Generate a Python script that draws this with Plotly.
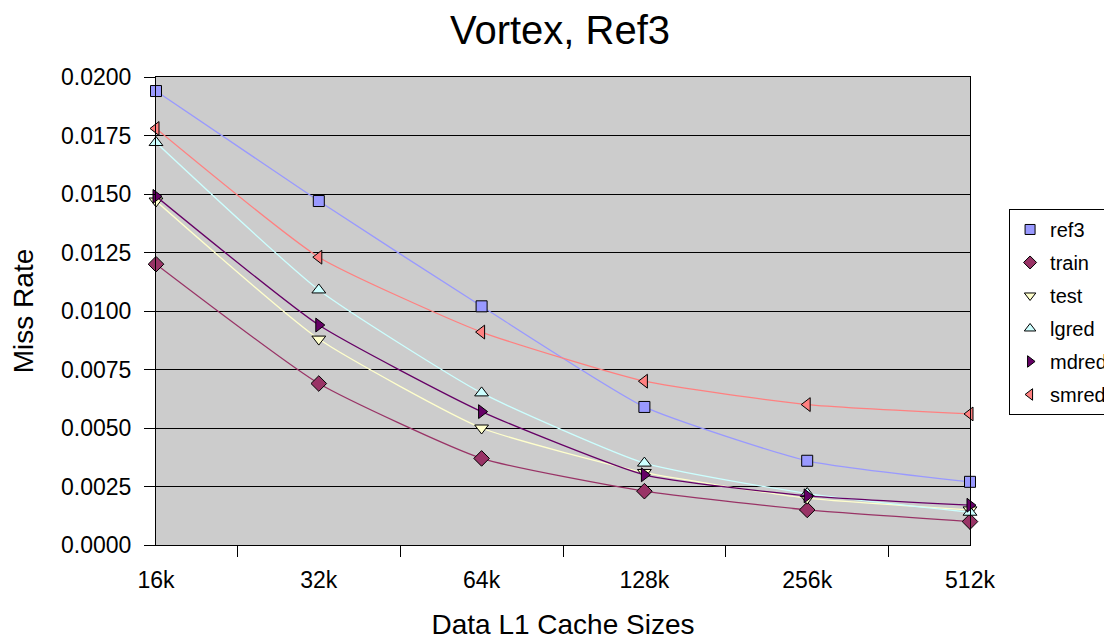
import plotly.graph_objects as go

categories = ["16k", "32k", "64k", "128k", "256k", "512k"]
series_names = ["ref3", "train", "test", "lgred", "mdred", "smred"]
ref3 = [0.0194, 0.0147, 0.0102, 0.0059, 0.0036, 0.0027]
train = [0.0120, 0.0069, 0.0037, 0.0023, 0.0015, 0.0010]
test = [0.0147, 0.0088, 0.0050, 0.0031, 0.0020, 0.0015]
lgred = [0.0172, 0.0109, 0.0065, 0.0035, 0.0022, 0.0014]
mdred = [0.0149, 0.0094, 0.0057, 0.0030, 0.0021, 0.0017]
smred = [0.0178, 0.0123, 0.0091, 0.0070, 0.0060, 0.0056]
y_ticks = [0.0, 0.0025, 0.005, 0.0075, 0.01, 0.0125, 0.015, 0.0175, 0.02]

values = [ref3, train, test, lgred, mdred, smred]
colors = ["#9999FF", "#993366", "#FFFFCC", "#CCFFFF", "#660066", "#FF8080"]
symbols = ["square", "diamond", "triangle-down", "triangle-up", "triangle-right", "triangle-left"]
sizes = [11, 12, 12, 12, 12, 12]

xs = list(range(len(categories)))
fig = go.Figure()
for name, vals, col, sym, sz in zip(series_names, values, colors, symbols, sizes):
    fig.add_trace(go.Scatter(
        x=xs, y=vals, mode="lines+markers", name=name, showlegend=False,
        line=dict(color=col, width=1.3, shape="spline", smoothing=0.5),
        marker=dict(symbol=sym, size=sz, color=col, line=dict(color="#000000", width=1)),
        cliponaxis=False,
    ))
for name, col, sym in zip(series_names, colors, symbols):
    fig.add_trace(go.Scatter(
        x=[None], y=[None], mode="markers", name=name, legendgroup=name,
        marker=dict(symbol=sym, size=10, color=col, line=dict(color="#000000", width=1)),
    ))

font_family = "Liberation Sans, Arial, sans-serif"
fig.update_layout(
    width=1104, height=633,
    margin=dict(l=148, r=142, t=69, b=96, autoexpand=False),
    paper_bgcolor="white",
    plot_bgcolor="#CCCCCC",
    font=dict(family=font_family, size=23, color="black"),
    title=dict(text="Vortex, Ref3", x=0.5, xanchor="center", y=0.965, yanchor="middle",
               font=dict(size=40, family=font_family, color="black")),
    legend=dict(x=1.048, xanchor="left", y=0.718, yanchor="top",
                bgcolor="white", bordercolor="#000000", borderwidth=1,
                font=dict(size=20, family=font_family), tracegroupgap=4,
                itemwidth=30),
    showlegend=True,
)
fig.update_xaxes(
    range=[0, len(categories) - 1],
    tickmode="array", tickvals=xs, ticktext=categories,
    ticks="", showgrid=False, zeroline=False,
    showline=True, linecolor="black", linewidth=1, mirror=True,
    tickfont=dict(size=23), ticklabelstandoff=14,
    minor=dict(tickvals=[i + 0.5 for i in xs[:-1]], ticks="outside", ticklen=11,
               tickcolor="black", tickwidth=1, showgrid=False),
    title=dict(text="Data L1 Cache Sizes", font=dict(size=28), standoff=22),
)
fig.update_yaxes(
    range=[0, 0.02], tickmode="array", tickvals=y_ticks,
    ticktext=[f"{v:.4f}" for v in y_ticks],
    ticks="outside", ticklen=11, tickcolor="black",
    showgrid=True, gridcolor="black", gridwidth=1, zeroline=False,
    showline=True, linecolor="black", linewidth=1, mirror=True,
    tickfont=dict(size=23), ticklabelstandoff=8,
    title=dict(text="Miss Rate", font=dict(size=28), standoff=20),
)
fig.write_html("out.html")
